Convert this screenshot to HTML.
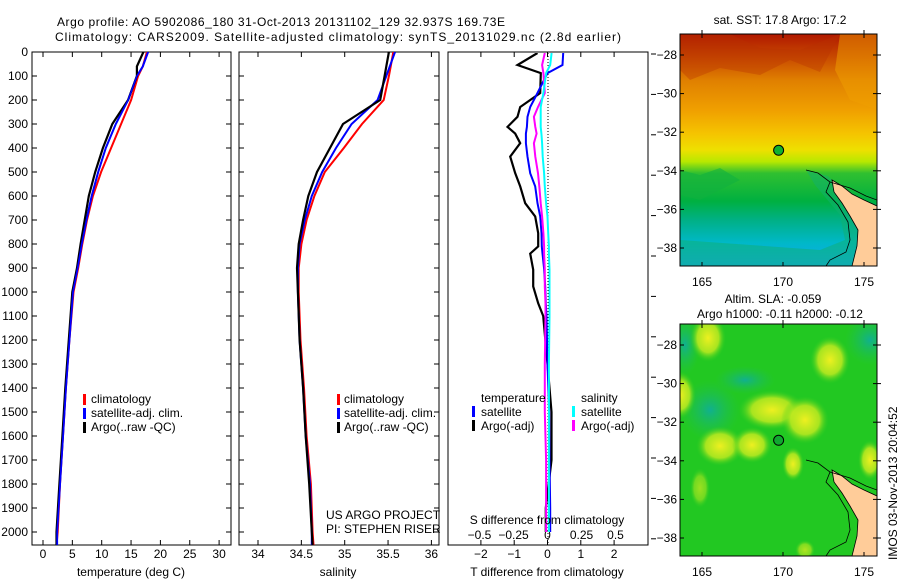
<!DOCTYPE html>
<html><head><meta charset="utf-8"><style>
body{margin:0;background:#fff;}
svg{display:block;font-family:"Liberation Sans",sans-serif;}
text{font-size:12px;fill:#000;}
</style></head><body>
<svg id="fig" width="900" height="580" viewBox="0 0 900 580">
<defs>
<linearGradient id="sstGrad" x1="0" y1="0" x2="0" y2="1">
<stop offset="0" stop-color="#b01800"/><stop offset="0.1" stop-color="#c84a00"/>
<stop offset="0.2" stop-color="#e08000"/><stop offset="0.33" stop-color="#f0a000"/>
<stop offset="0.43" stop-color="#f5c400"/><stop offset="0.5" stop-color="#eee000"/>
<stop offset="0.55" stop-color="#b8e800"/><stop offset="0.6" stop-color="#30c030"/>
<stop offset="0.72" stop-color="#00b040"/><stop offset="0.8" stop-color="#00b084"/>
<stop offset="0.9" stop-color="#00b8c8"/><stop offset="1" stop-color="#10a8f0"/>
</linearGradient>
<radialGradient id="blob"><stop offset="0" stop-color="#eef020"/><stop offset="0.6" stop-color="#c0ea20" stop-opacity="0.85"/><stop offset="1" stop-color="#30cc20" stop-opacity="0"/></radialGradient>
<radialGradient id="teal"><stop offset="0" stop-color="#10b090"/><stop offset="1" stop-color="#20c050" stop-opacity="0"/></radialGradient>
<clipPath id="c1"><rect x="32" y="52" width="199" height="493"/></clipPath>
<clipPath id="c2"><rect x="239" y="52" width="200" height="493"/></clipPath>
<clipPath id="c3"><rect x="448" y="53" width="200" height="492"/></clipPath>
<clipPath id="m1"><rect x="680" y="34" width="197" height="232"/></clipPath>
<clipPath id="m2"><rect x="680" y="324" width="197" height="232"/></clipPath>
</defs>

<text x="57" y="26" textLength="448">Argo profile: AO 5902086_180 31-Oct-2013 20131102_129 32.937S 169.73E</text>
<text x="55" y="41" textLength="566">Climatology: CARS2009. Satellite-adjusted climatology: synTS_20131029.nc (2.8d earlier)</text>

<g id="p1"></g>
<g id="p2"></g>
<g id="p3"></g>

<g>
<rect x="83" y="394" width="3" height="11" fill="#f00"/><text x="91" y="403">climatology</text>
<rect x="83" y="408" width="3" height="11" fill="#00f"/><text x="91" y="417">satellite-adj. clim.</text>
<rect x="83" y="422" width="3" height="11" fill="#000"/><text x="91" y="431">Argo(..raw -QC)</text>
</g>
<g>
<rect x="337" y="394" width="3" height="11" fill="#f00"/><text x="344" y="403">climatology</text>
<rect x="337" y="408" width="3" height="11" fill="#00f"/><text x="344" y="417">satellite-adj. clim.</text>
<rect x="337" y="422" width="3" height="11" fill="#000"/><text x="344" y="431">Argo(..raw -QC)</text>
</g>
<text x="326" y="519">US ARGO PROJECT</text>
<text x="326" y="533">PI: STEPHEN RISER</text>
<g>
<text x="481" y="402">temperature</text><text x="581" y="402">salinity</text>
<rect x="472" y="406" width="3" height="11" fill="#00f"/><text x="481" y="416">satellite</text>
<rect x="472" y="420" width="3" height="11" fill="#000"/><text x="481" y="430">Argo(-adj)</text>
<rect x="572" y="406" width="3" height="11" fill="#0ff"/><text x="581" y="416">satellite</text>
<rect x="572" y="420" width="3" height="11" fill="#f0f"/><text x="581" y="430">Argo(-adj)</text>
</g>
<text x="547" y="524" text-anchor="middle">S difference from climatology</text>
<text x="131" y="576" text-anchor="middle">temperature (deg C)</text>
<text x="338" y="576" text-anchor="middle">salinity</text>
<text x="547" y="576" text-anchor="middle">T difference from climatology</text>

<text x="780" y="24" text-anchor="middle">sat. SST: 17.8 Argo: 17.2</text>
<g clip-path="url(#m1)">
<rect x="680" y="34" width="197" height="232" fill="url(#sstGrad)"/>
<path d="M680,34 L730,34 L760,48 L800,50 L840,34 L820,72 L790,60 L760,75 L720,68 L690,80 L680,70Z" fill="#b83000" opacity="0.35"/>
<path d="M840,34 L877,34 L877,110 L850,100 L835,70Z" fill="#f0a000" opacity="0.5"/>
<path d="M680,170 L700,175 L720,168 L740,180 L700,200 L680,195Z" fill="#10b040" opacity="0.6"/>
<path d="M806,170 L828,176 L846,194 L868,204 L877,206 L877,266 L680,266 L680,240 L820,250 L845,240 L840,215 L815,185Z" fill="#10b070" opacity="0.5"/>
<g class="land"></g>
</g>
<rect x="680" y="34" width="197" height="232" fill="none" stroke="#000"/>
<circle id="dot1" r="5" fill="#10b030" stroke="#000"/>

<text x="773" y="303" text-anchor="middle">Altim. SLA: -0.059</text>
<text x="780" y="318" text-anchor="middle">Argo h1000: -0.11 h2000: -0.12</text>
<g clip-path="url(#m2)">
<rect x="680" y="324" width="197" height="232" fill="#22c822"/>
<ellipse cx="710" cy="410" rx="30" ry="30" fill="url(#teal)"/>
<ellipse cx="745" cy="380" rx="30" ry="14" fill="url(#teal)"/>
<ellipse cx="870" cy="340" rx="25" ry="25" fill="url(#teal)"/>
<ellipse cx="685" cy="345" rx="15" ry="30" fill="url(#teal)"/>
<ellipse cx="708" cy="338" rx="18" ry="24" fill="url(#blob)"/>
<ellipse cx="680" cy="395" rx="16" ry="24" fill="url(#blob)"/>
<ellipse cx="830" cy="360" rx="20" ry="24" fill="url(#blob)"/>
<ellipse cx="772" cy="410" rx="34" ry="20" fill="url(#blob)"/>
<ellipse cx="805" cy="420" rx="24" ry="24" fill="url(#blob)"/>
<ellipse cx="720" cy="446" rx="24" ry="20" fill="url(#blob)"/>
<ellipse cx="752" cy="445" rx="20" ry="18" fill="url(#blob)"/>
<ellipse cx="793" cy="464" rx="11" ry="17" fill="url(#blob)"/>
<ellipse cx="870" cy="460" rx="12" ry="20" fill="url(#blob)"/>
<ellipse cx="700" cy="488" rx="10" ry="20" fill="url(#blob)" opacity="0.6"/>
<ellipse cx="805" cy="550" rx="10" ry="10" fill="url(#blob)" opacity="0.7"/>
<g class="land"></g>
</g>
<rect x="680" y="324" width="197" height="232" fill="none" stroke="#000"/>
<circle id="dot2" r="5" fill="#10a830" stroke="#000"/>
<text transform="translate(897,560) rotate(-90)">IMOS 03-Nov-2013 20:04:52</text>
<g id="maxes"></g>
</svg>
<script>
const depths = [0, 60, 100, 200, 300, 400, 500, 600, 700, 800, 900, 1000, 1200, 1400, 1600, 1800, 2000, 2054];
const tempClim = [17.7, 17.0, 16.2, 15.0, 13.3, 11.6, 9.9, 8.5, 7.5, 6.7, 6.0, 5.2, 4.5, 3.9, 3.4, 2.9, 2.5, 2.3];
const tempSat  = [17.9, 17.0, 16.0, 14.5, 12.4, 10.7, 9.4, 8.3, 7.4, 6.6, 5.9, 5.1, 4.5, 3.9, 3.4, 2.9, 2.4, 2.4];
const tempArgo = [17.1, 16.0, 16.0, 14.5, 11.8, 10.2, 8.9, 7.8, 7.1, 6.4, 5.8, 5.0, 4.4, 3.8, 3.3, 2.8, 2.3, 2.3];
const salClim = [35.56, 35.53, 35.51, 35.45, 35.2, 34.99, 34.77, 34.65, 34.56, 34.5, 34.47, 34.47, 34.49, 34.53, 34.56, 34.61, 34.63, 34.64];
const salSat  = [35.58, 35.52, 35.48, 35.38, 35.08, 34.9, 34.74, 34.62, 34.54, 34.48, 34.46, 34.46, 34.48, 34.52, 34.55, 34.6, 34.62, 34.62];
const salArgo = [35.51, 35.48, 35.46, 35.41, 34.98, 34.83, 34.68, 34.58, 34.52, 34.47, 34.45, 34.46, 34.48, 34.52, 34.55, 34.59, 34.62, 34.63];
const diffDepths = [4, 54, 88, 171, 229, 270, 312, 340, 380, 436, 505, 560, 630, 685, 755, 810, 840, 907, 977, 1047, 1100, 1300, 1500, 1700, 1900, 2000];
const tDiffArgo = [-0.3, -0.9, -0.2, -0.22, -0.82, -0.9, -1.2, -0.97, -0.82, -1.12, -0.97, -0.82, -0.67, -0.37, -0.28, -0.28, -0.52, -0.43, -0.43, -0.28, -0.13, 0.0, 0.12, 0.12, -0.05, -0.05];
const tDiffSat  = [0.47, 0.45, 0.0, -0.3, -0.52, -0.6, -0.62, -0.65, -0.65, -0.6, -0.52, -0.37, -0.3, -0.22, -0.18, -0.17, -0.15, -0.1, -0.07, -0.05, -0.03, 0.0, 0.05, 0.06, 0.08, 0.08];
const sDiffArgo = [-0.02, -0.04, -0.03, -0.02, -0.07, -0.1, -0.09, -0.08, -0.1, -0.09, -0.07, -0.06, -0.05, -0.04, -0.03, -0.025, -0.025, -0.02, -0.02, -0.015, -0.015, -0.02, -0.02, -0.01, -0.01, -0.01];
const sDiffSat  = [0.03, 0.02, -0.01, -0.03, -0.05, -0.05, -0.05, -0.045, -0.04, -0.035, -0.025, -0.02, -0.01, 0.0, 0.005, 0.01, 0.01, 0.015, 0.015, 0.015, 0.015, 0.01, 0.01, 0.01, 0.01, 0.01];
const depthTicks = [0,100,200,300,400,500,600,700,800,900,1000,1100,1200,1300,1400,1500,1600,1700,1800,1900,2000];
const tempTicks = [0,5,10,15,20,25,30];
const salTicks = [34,34.5,35,35.5,36];
const tDiffTicks = [-2,-1,0,1,2];
const sDiffTicks = [-0.5,-0.25,0,0.25,0.5];
const latTicks = [-28,-30,-32,-34,-36,-38];
const lonTicks = [165,170,175];
const argoLon = 169.73, argoLat = -32.937;

const yD = d => 52 + d * 0.24;
const xT = t => 43 + t * 5.87;
const xS = s => 258 + (s - 34) * 86.7;
const xTD = v => 547.5 + v * 33.3;
const xSD = v => 547.5 + v * 136;
const xLon = l => 702 + (l - 165) * 16.2;
const yLat = (l, off) => 55 + off + (-28 - l) * 19.3;

const NS = 'http://www.w3.org/2000/svg';
function mk(tag, attrs, parent) {
  const e = document.createElementNS(NS, tag);
  for (const k in attrs) e.setAttribute(k, attrs[k]);
  parent.appendChild(e); return e;
}
function line(parent, xs, ys, xf, color, w, name, clip) {
  const pts = xs.map((v, i) => xf(v).toFixed(1) + ',' + yD(ys[i]).toFixed(1)).join(' ');
  const p = mk('polyline', {points: pts, fill: 'none', stroke: color, 'stroke-width': w, 'clip-path': clip}, parent);
  
  
}
function frame(parent, x0, x1, name) {
  const r = mk('rect', {x: x0, y: 52, width: x1 - x0, height: 493, fill: 'none', stroke: '#000'}, parent);
  
  
}
function xticks(parent, ticks, xf, x0, x1, ly) {
  ticks.forEach(t => {
    const x = xf(t);
    mk('line', {x1: x, x2: x, y1: 52, y2: 57, stroke: '#000'}, parent);
    mk('line', {x1: x, x2: x, y1: 540, y2: 545, stroke: '#000'}, parent);
    if (ly) {
      const tx = mk('text', {x: x, y: ly, 'text-anchor': 'middle'}, parent);
      tx.textContent = String(t).replace('-', '\u2212');
      
      
    }
  });
}
function yticks(parent, x0, x1, labels) {
  depthTicks.forEach(d => {
    const y = yD(d);
    mk('line', {x1: x0, x2: x0 + 5, y1: y, y2: y, stroke: '#000'}, parent);
    mk('line', {x1: x1 - 5, x2: x1, y1: y, y2: y, stroke: '#000'}, parent);
    if (labels) {
      const tx = mk('text', {x: 28, y: y + 4, 'text-anchor': 'end'}, parent);
      tx.textContent = d;
      
      
    }
  });
}

const p1 = document.getElementById('p1');
frame(p1, 32, 231, 'temperature-axes-frame');
xticks(p1, tempTicks, xT, 32, 231, 558);
yticks(p1, 32, 231, true);
line(p1, tempClim, depths, xT, '#f00', 2, 'temp-climatology-line', 'url(#c1)');
line(p1, tempSat, depths, xT, '#00f', 2, 'temp-satellite-line', 'url(#c1)');
line(p1, tempArgo, depths, xT, '#000', 2.2, 'temp-argo-line', 'url(#c1)');
line(p1, tempSat, depths, xT, '#00f', 1.6, 'temp-satellite-line-top', 'url(#c1)');

const p2 = document.getElementById('p2');
frame(p2, 239, 439, 'salinity-axes-frame');
xticks(p2, salTicks, xS, 239, 439, 558);
yticks(p2, 239, 439, false);
line(p2, salClim, depths, xS, '#f00', 2, 'sal-climatology-line', 'url(#c2)');
line(p2, salSat, depths, xS, '#00f', 2, 'sal-satellite-line', 'url(#c2)');
line(p2, salArgo, depths, xS, '#000', 2.2, 'sal-argo-line', 'url(#c2)');

const p3 = document.getElementById('p3');
frame(p3, 448, 648, 'difference-axes-frame');
xticks(p3, tDiffTicks, xTD, 448, 648, 558);
sDiffTicks.forEach(t => {
  const tx = mk('text', {x: xSD(t), y: 539, 'text-anchor': 'middle'}, p3);
  tx.textContent = String(t).replace('-', '\u2212');
  
  
});
mk('line', {x1: 548, x2: 548, y1: 53, y2: 545, stroke: '#000', 'stroke-dasharray': '1,2'}, p3);
for (let i = 0; i < 13; i++) { const y = 54 + i * 40.4; mk('line', {x1: 651, x2: 656, y1: y, y2: y, stroke: '#000'}, p3); }
line(p3, tDiffArgo, diffDepths, xTD, '#000', 2.2, 't-diff-argo-line', 'url(#c3)');
line(p3, tDiffSat, diffDepths, xTD, '#00f', 2, 't-diff-satellite-line', 'url(#c3)');
line(p3, sDiffArgo, diffDepths, xSD, '#f0f', 2, 's-diff-argo-line', 'url(#c3)');
line(p3, sDiffSat, diffDepths, xSD, '#0ff', 2, 's-diff-satellite-line', 'url(#c3)');

const mx = document.getElementById('maxes');
[0, 290].forEach((off, mi) => {
  const land = document.querySelectorAll('.land')[mi];
  const lp = mk('path', {d: `M832,${180+off} L842,${186+off} L852,${194+off} L864,${200+off} L877,${206+off} L877,${266+off} L852,${266+off} L857,${246+off} L858,${230+off} L850,${216+off} L842,${203+off} L834,${192+off}Z`, fill: '#ffcc99', stroke: '#000', 'stroke-width': 0.8}, land);
  
  
  const cl = mk('path', {d: `M806,${170+off} L818,${173+off} L830,${182+off} L826,${192+off} L838,${205+off} L848,${222+off} L850,${240+off} L846,${252+off} L830,${260+off} L826,${266+off}`, fill: 'none', stroke: '#000', 'stroke-width': 0.8}, land);
  
  
  const cl2 = mk('path', {d: `M830,${182+off} L850,${188+off} L866,${196+off} L877,${200+off}`, fill: 'none', stroke: '#000', 'stroke-width': 0.8}, land);
  
  
  latTicks.forEach(l => {
    const y = yLat(l, off);
    mk('line', {x1: 680, x2: 684, y1: y, y2: y, stroke: '#000'}, mx);
    mk('line', {x1: 873, x2: 881, y1: y, y2: y, stroke: '#000'}, mx);
    const t = mk('text', {x: 677, y: y + 4, 'text-anchor': 'end'}, mx);
    t.textContent = '\u2212' + (-l);
    
    
  });
  lonTicks.forEach(l => {
    const x = xLon(l);
    mk('line', {x1: x, x2: x, y1: 30 + off, y2: 38 + off, stroke: '#000'}, mx);
    mk('line', {x1: x, x2: x, y1: 262 + off, y2: 266 + off, stroke: '#000'}, mx);
    const t = mk('text', {x: x, y: 286 + off, 'text-anchor': 'middle'}, mx);
    t.textContent = l;
    
    
  });
});
const d1 = document.getElementById('dot1');
d1.setAttribute('cx', xLon(argoLon)); d1.setAttribute('cy', yLat(argoLat, 0));
const d2 = document.getElementById('dot2');
d2.setAttribute('cx', xLon(argoLon)); d2.setAttribute('cy', yLat(argoLat, 290));
</script>
</body></html>
